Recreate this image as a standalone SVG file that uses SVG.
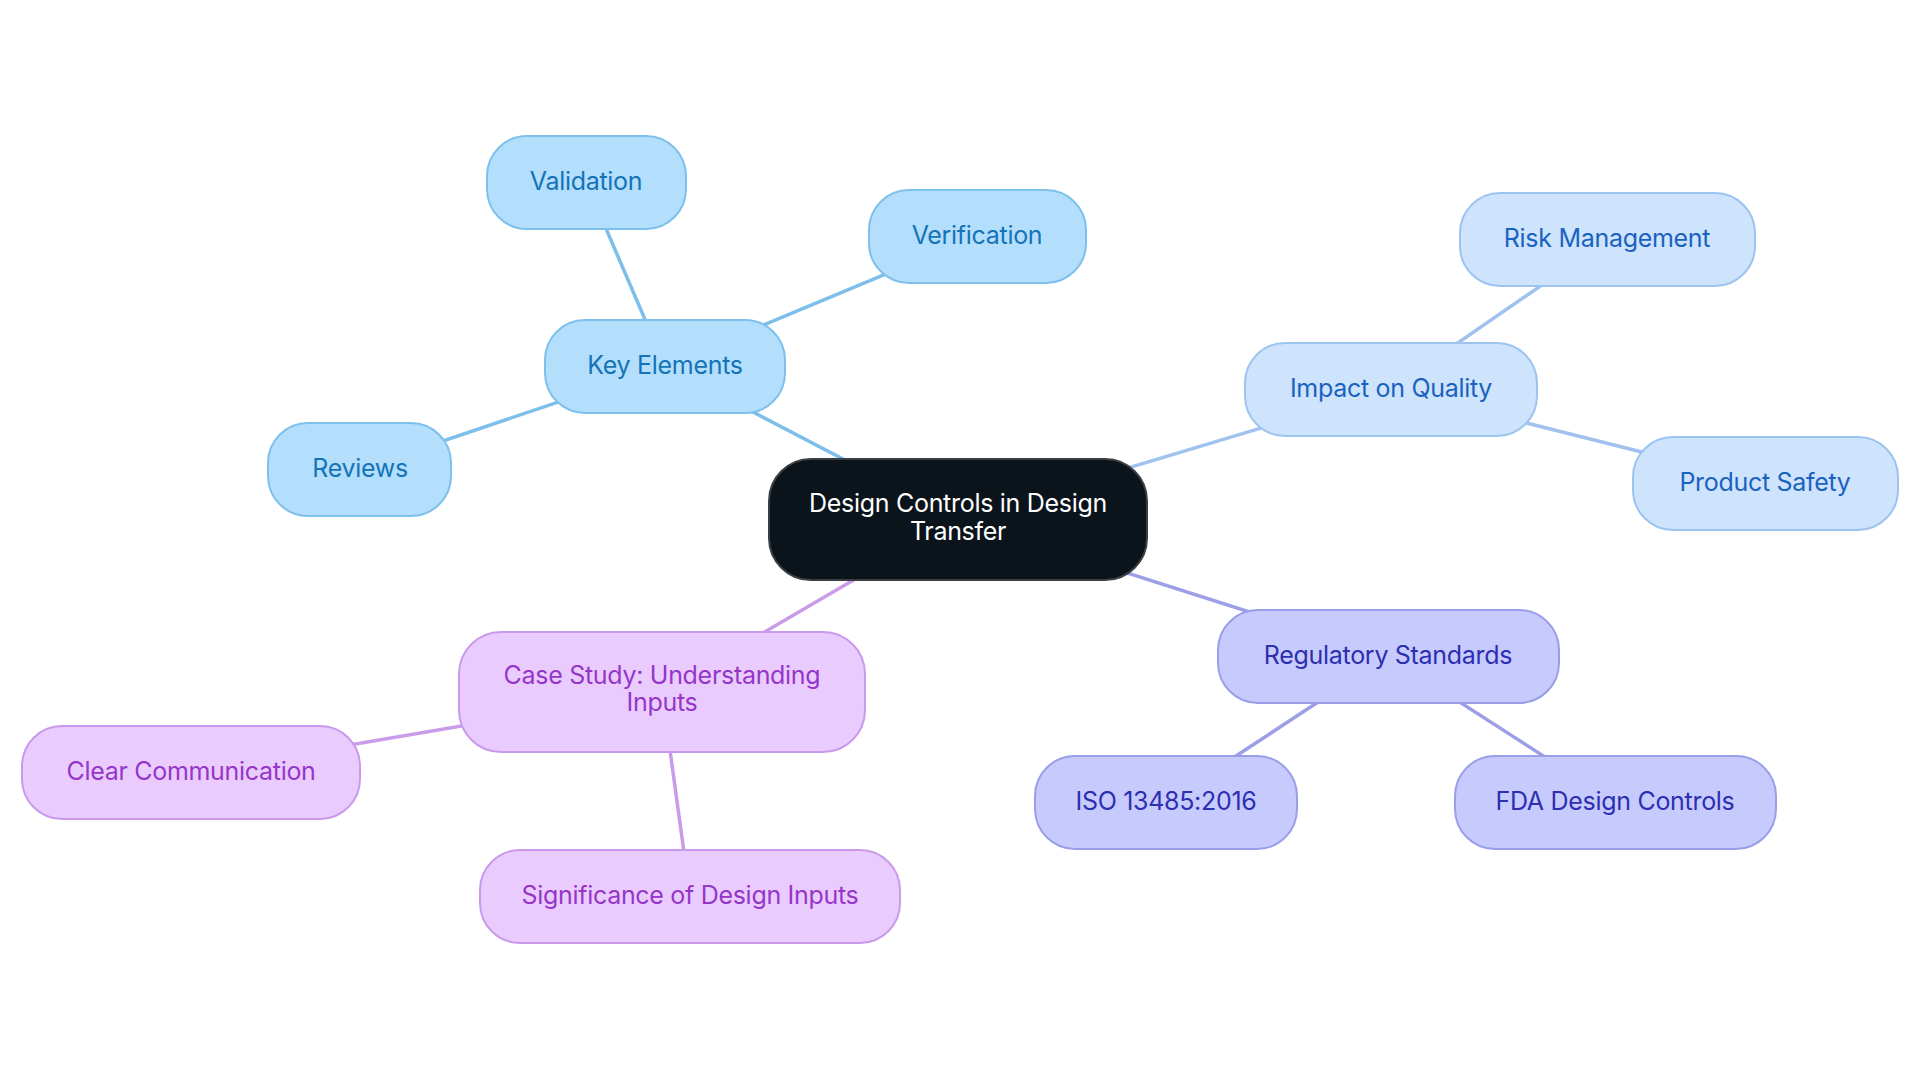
<svg xmlns="http://www.w3.org/2000/svg" width="1920" height="1083" viewBox="0 0 1920 1083">
<style>
text{font-family:Inter,"Noto Sans","Liberation Sans",sans-serif;font-size:25px;text-anchor:middle;letter-spacing:-0.3px}
.c rect{fill:#0b141b;stroke:#3a3f44;stroke-width:2}
.c text{fill:#ffffff}
.b rect{fill:#b3dffc;stroke:#7dc0ec;stroke-width:2}
.b text{fill:#1573b8}
.q rect{fill:#cde4fc;stroke:#9cc4ef;stroke-width:2}
.q text{fill:#1b62c0}
.r rect{fill:#c7cafd;stroke:#9a9ee8;stroke-width:2}
.r text{fill:#2c2fb0}
.p rect{fill:#eacbfe;stroke:#c99aec;stroke-width:2}
.p text{fill:#9536c9}
#edges line{stroke-width:3.5;fill:none}
</style>
<rect width="1920" height="1083" fill="#ffffff"/>
<g id="edges">
<line x1="958" y1="519" x2="665" y2="366" stroke="#7dbfea"/>
<line x1="665" y1="366" x2="586" y2="182" stroke="#7dbfea"/>
<line x1="665" y1="366" x2="977" y2="236" stroke="#7dbfea"/>
<line x1="665" y1="366" x2="360" y2="469" stroke="#7dbfea"/>
<line x1="958" y1="519" x2="1391" y2="389" stroke="#9fc3ee"/>
<line x1="1391" y1="389" x2="1607" y2="240" stroke="#9fc3ee"/>
<line x1="1391" y1="389" x2="1765" y2="483" stroke="#9fc3ee"/>
<line x1="958" y1="519" x2="1388" y2="656" stroke="#9c9fe6"/>
<line x1="1388" y1="656" x2="1166" y2="802" stroke="#9c9fe6"/>
<line x1="1388" y1="656" x2="1615" y2="802" stroke="#9c9fe6"/>
<line x1="958" y1="519" x2="662" y2="692" stroke="#c99be9"/>
<line x1="662" y1="692" x2="191" y2="772" stroke="#c99be9"/>
<line x1="662" y1="692" x2="690" y2="896" stroke="#c99be9"/>
</g>
<g id="center" class="c"><rect x="769" y="459" width="378" height="121" rx="42"/><text x="958" y="512">Design Controls in Design</text><text x="958" y="540">Transfer</text></g>
<g id="key-elements" class="b"><rect x="545" y="320" width="240" height="93" rx="40"/><text x="665" y="374">Key Elements</text></g>
<g id="validation" class="b"><rect x="487" y="136" width="199" height="93" rx="40"/><text x="586" y="190">Validation</text></g>
<g id="verification" class="b"><rect x="869" y="190" width="217" height="93" rx="40"/><text x="977" y="244">Verification</text></g>
<g id="reviews" class="b"><rect x="268" y="423" width="183" height="93" rx="40"/><text x="360" y="477">Reviews</text></g>
<g id="impact" class="q"><rect x="1245" y="343" width="292" height="93" rx="40"/><text x="1391" y="397">Impact on Quality</text></g>
<g id="risk" class="q"><rect x="1460" y="193" width="295" height="93" rx="40"/><text x="1607" y="247">Risk Management</text></g>
<g id="safety" class="q"><rect x="1633" y="437" width="265" height="93" rx="40"/><text x="1765" y="491">Product Safety</text></g>
<g id="regulatory" class="r"><rect x="1218" y="610" width="341" height="93" rx="40"/><text x="1388" y="664">Regulatory Standards</text></g>
<g id="iso" class="r"><rect x="1035" y="756" width="262" height="93" rx="40"/><text x="1166" y="810">ISO 13485:2016</text></g>
<g id="fda" class="r"><rect x="1455" y="756" width="321" height="93" rx="40"/><text x="1615" y="810">FDA Design Controls</text></g>
<g id="case-study" class="p"><rect x="459" y="632" width="406" height="120" rx="42"/><text x="662" y="684">Case Study: Understanding</text><text x="662" y="711">Inputs</text></g>
<g id="clear" class="p"><rect x="22" y="726" width="338" height="93" rx="40"/><text x="191" y="780">Clear Communication</text></g>
<g id="significance" class="p"><rect x="480" y="850" width="420" height="93" rx="40"/><text x="690" y="904">Significance of Design Inputs</text></g>
</svg>
